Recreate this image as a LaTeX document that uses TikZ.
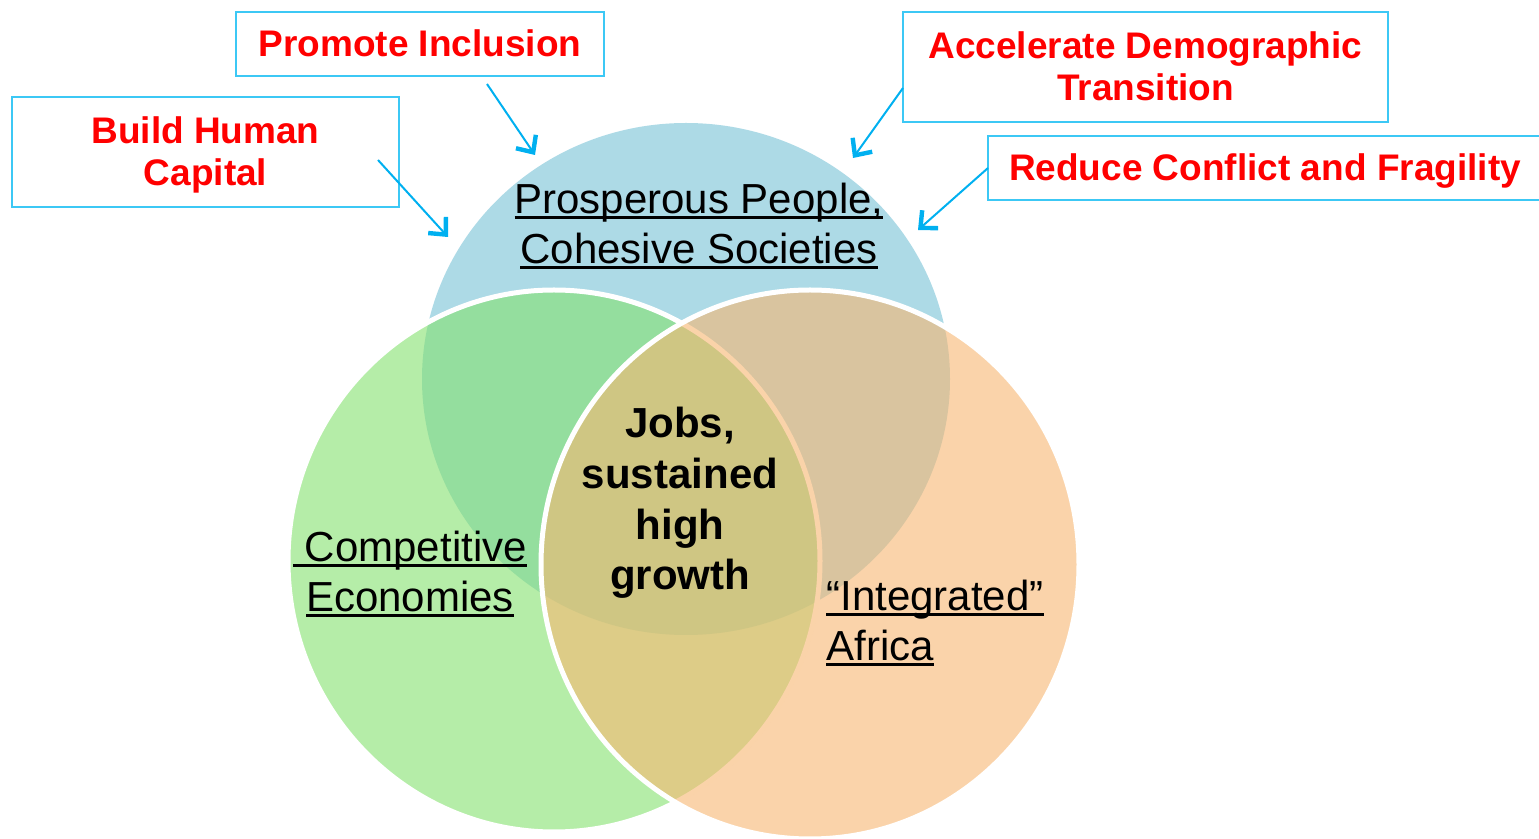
\documentclass[tikz,border=0pt]{standalone}
\usepackage{fontspec}
\setmainfont{Liberation Sans}
\usetikzlibrary{arrows.meta,shapes.geometric}
\definecolor{arrowcyan}{RGB}{0,176,240}
\definecolor{boxcyan}{RGB}{60,200,245}
\definecolor{bluefill}{RGB}{173,218,230}
\definecolor{greenfill}{RGB}{132,225,110}
\definecolor{orangefill}{RGB}{247,182,113}
\definecolor{labelred}{RGB}{255,0,0}
\newcommand{\ulabel}[1]{\setbox0\hbox{#1}\rlap{\copy0}\rule[-0.12em]{\wd0}{0.07em}}
\newcommand{\topstrut}{\rule{0pt}{0.905em}}
\newcommand{\botstrut}{\rule[-0.212em]{0pt}{0.212em}}

\begin{document}
\begin{tikzpicture}[x=0.5pt,y=-0.5pt,
        venn/.style={ellipse,inner sep=0pt},
        goalbox/.style={draw=boxcyan,line width=1pt,fill=white,inner sep=0pt,align=center,
          text=labelred,font=\fontsize{18.5pt}{21pt}\selectfont\bfseries},
        pointer/.style={draw=arrowcyan,line width=1pt,-{Straight Barb[length=6.5pt,width=12pt,line width=2.2pt]}},
        venntext/.style={font=\fontsize{21pt}{25pt}\selectfont,inner sep=0pt}]
        \useasboundingbox (0,0) rectangle (1539,839);

        %circles
        \node[venn,fill=bluefill,minimum width=264pt,minimum height=256pt] (people) at (686,379) {};
        \node[venn,fill=greenfill,fill opacity=0.6,draw=white,line width=2.5pt,
          minimum width=266pt,minimum height=271pt] (economies) at (554,561) {};
        \node[venn,fill=orangefill,fill opacity=0.6,draw=white,line width=2.5pt,
          minimum width=269pt,minimum height=274.5pt] (africa) at (810,564.5) {};

        %boxes
        \node[goalbox,minimum width=193.5pt,minimum height=55pt] (capital) at (205.5,152) {\topstrut Build Human\\Capital\botstrut};
        \node[goalbox,minimum width=184pt,minimum height=32pt] (inclusion) at (420,44) {\topstrut Promote Inclusion\botstrut};
        \node[goalbox,minimum width=242.5pt,minimum height=55pt] (demography) at (1145.5,67) {\topstrut Accelerate Demographic\\Transition\botstrut};
        \node[goalbox,minimum width=277pt,minimum height=32pt] (fragility) at (1265,168) {\topstrut Reduce Conflict and Fragility\botstrut};

        %arrows
        \coordinate (capital start) at (378,160);
        \coordinate (capital tip) at (448,237);
        \coordinate (inclusion start) at (487,84);
        \coordinate (inclusion tip) at (535,155);
        \coordinate (demography start) at (903,88);
        \coordinate (demography tip) at (853,158);
        \coordinate (fragility start) at (988,168);
        \coordinate (fragility tip) at (918,230);
        \draw[pointer] (capital start) -- (capital tip);
        \draw[pointer] (inclusion start) -- (inclusion tip);
        \draw[pointer] (demography start) -- (demography tip);
        \draw[pointer] (fragility start) -- (fragility tip);

        %labels
        \node[venntext,align=center] (people label) at (699,226) {\ulabel{Prosperous People,}\\\ulabel{Cohesive Societies}};
        \node[venntext,align=center] (economies label) at (410,574) {\ulabel{\ Competitive}\\\ulabel{Economies}};
        \node[venntext,align=left,anchor=west] (africa label) at (826,623) {\ulabel{“Integrated”}\\\ulabel{Africa}};
        \node[venntext,align=center,font=\fontsize{21pt}{25.3pt}\selectfont\bfseries] (jobs) at (680,503) {Jobs,\\sustained\\high\\growth};

\end{tikzpicture}
\end{document}
